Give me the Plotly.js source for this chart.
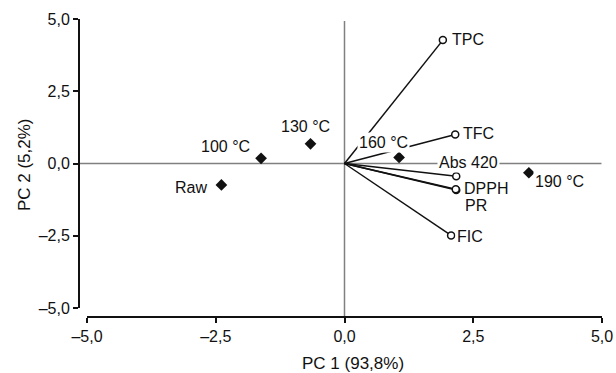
<!DOCTYPE html>
<html>
<head>
<meta charset="utf-8">
<script src="https://cdn.plot.ly/plotly-3.0.1.min.js"></script>
<style>html,body{margin:0;padding:0;background:#fff;}#chart{width:616px;height:373px;}</style>
</head>
<body>
<div id="chart"></div>
<script>
// Sample scores
var sampleNames = ["Raw", "100 °C", "130 °C", "160 °C", "190 °C"];
var samplePC1 = [-2.39, -1.62, -0.66, 1.06, 3.58];
var samplePC2 = [-0.74, 0.18, 0.68, 0.21, -0.32];

// Variable loadings (vectors)
var varNames = ["TPC", "TFC", "Abs 420", "DPPH", "PR", "FIC"];
var varPC1 = [1.91, 2.15, 2.17, 2.17, 2.16, 2.07];
var varPC2 = [4.27, 1.00, -0.44, -0.92, -0.89, -2.49];

// Axis ticks
var tickVals = [-5, -2.5, 0, 2.5, 5];
var tickText = ["\u20135,0", "\u20132,5", "0,0", "2,5", "5,0"];

// Label offsets (pixels) from markers
var sampleShift = [[-30, -3], [-36, 12], [-5, 17], [-16, 15], [31, -9]];
var varShift = [[25, 1], [23, 1], [12, 14], [30, 2], [20, -16], [19, -1]];

var FONT = "Liberation Sans, Arial, Helvetica, sans-serif";

var vx = [], vy = [];
for (var i = 0; i < varNames.length; i++) {
  vx.push(0, varPC1[i], null);
  vy.push(0, varPC2[i], null);
}

var traces = [
  {x: vx, y: vy, mode: "lines", type: "scatter", line: {color: "#111", width: 1.5}, hoverinfo: "skip", showlegend: false},
  {x: varPC1, y: varPC2, mode: "markers", type: "scatter", marker: {symbol: "circle", size: 7, color: "#fff", line: {color: "#111", width: 1.5}}, showlegend: false},
  {x: samplePC1, y: samplePC2, mode: "markers", type: "scatter", marker: {symbol: "diamond", size: 9, color: "#111"}, showlegend: false}
];

var annotations = [];
function addLabel(txt, x, y, sh) {
  annotations.push({text: txt, x: x, y: y, xref: "x", yref: "y", showarrow: false,
    xanchor: "center", yanchor: "middle", xshift: sh[0], yshift: sh[1],
    bgcolor: "#fff", borderpad: 1, font: {family: FONT, size: 16, color: "#111"}});
}
for (var i = 0; i < sampleNames.length; i++) addLabel(sampleNames[i], samplePC1[i], samplePC2[i], sampleShift[i]);
for (var i = 0; i < varNames.length; i++) addLabel(varNames[i], varPC1[i], varPC2[i], varShift[i]);

// axis titles
annotations.push({text: "PC 1 (93,8%)", xref: "paper", yref: "paper", x: 0.523, y: -0.155, showarrow: false,
  xanchor: "center", yanchor: "middle", font: {family: FONT, size: 17, color: "#111"}});
annotations.push({text: "PC 2 (5,2%)", xref: "paper", yref: "paper", x: -0.105, y: 0.51, showarrow: false, textangle: -90,
  xanchor: "center", yanchor: "middle", font: {family: FONT, size: 17, color: "#111"}});

var axisCommon = {
  showgrid: false, zeroline: false, showline: true, linecolor: "#111", linewidth: 2,
  ticks: "outside", ticklen: 5, tickwidth: 2, tickcolor: "#111",
  tickmode: "array", tickvals: tickVals, ticktext: tickText,
  tickfont: {family: FONT, size: 16, color: "#111"}, range: [-5, 5], fixedrange: true
};

var layout = {
  width: 616, height: 373,
  margin: {l: 79, r: 14, t: 19, b: 56},
  paper_bgcolor: "#fff", plot_bgcolor: "#fff",
  font: {family: FONT, color: "#111"},
  xaxis: Object.assign({}, axisCommon, {domain: [0.0153, 1], anchor: "free", position: 0}),
  yaxis: Object.assign({}, axisCommon, {domain: [0.0302, 1], anchor: "free", position: 0}),
  shapes: [
    {type: "line", xref: "paper", yref: "y", x0: 0, x1: 0.999, y0: 0, y1: 0, layer: "below", line: {color: "#808080", width: 1.5}},
    {type: "line", xref: "x", yref: "paper", x0: 0, x1: 0, y0: 0, y1: 0.993, layer: "below", line: {color: "#808080", width: 1.5}}
  ],
  annotations: annotations,
  showlegend: false
};

Plotly.newPlot("chart", traces, layout, {staticPlot: true, displayModeBar: false});
</script>
</body>
</html>
